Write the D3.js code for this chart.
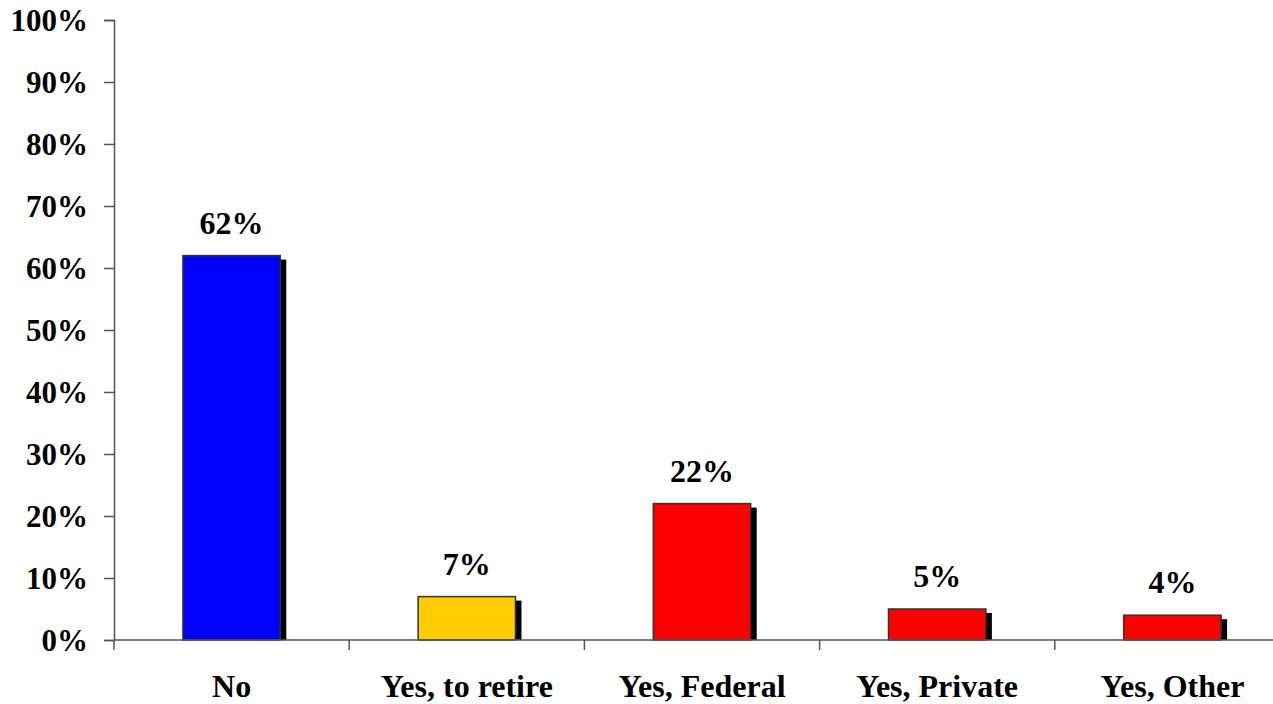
<!DOCTYPE html>
<html>
<head>
<meta charset="utf-8">
<script src="https://cdn.jsdelivr.net/npm/d3@7"></script>
<style>
  html, body { margin: 0; padding: 0; background: #fff; }
  svg { display: block; }
  text { font-family: "Liberation Serif", "Times New Roman", serif; font-weight: bold; fill: #000; }
</style>
</head>
<body>
<svg id="chart" width="1273" height="704"></svg>
<script>
// Survey responses and their shares (percent)
const categories = ["No", "Yes, to retire", "Yes, Federal", "Yes, Private", "Yes, Other"];
const shares = [62, 7, 22, 5, 4];
const barColors = ["#0000FF", "#FFCC00", "#FF0000", "#FF0000", "#FF0000"];
const yTicks = [0, 10, 20, 30, 40, 50, 60, 70, 80, 90, 100];

(function draw() {
  const svg = d3.select("#chart");
  const plotLeft = 114, plotRight = 1290, plotTop = 20, plotBottom = 640;

  const x = d3.scaleBand().domain(categories).range([plotLeft, plotRight]).paddingInner(0.586).paddingOuter(0.293);
  const y = d3.scaleLinear().domain([0, 100]).range([plotBottom, plotTop]);

  const data = categories.map((c, i) => ({ cat: c, value: shares[i], color: barColors[i] }));

  // Drop shadows behind the bars
  svg.append("g").selectAll("rect").data(data).join("rect")
    .attr("x", d => x(d.cat) + 6)
    .attr("y", d => y(d.value) + 4)
    .attr("width", x.bandwidth())
    .attr("height", d => plotBottom - y(d.value) - 4)
    .attr("fill", "#000");

  // Bars
  svg.append("g").selectAll("rect").data(data).join("rect")
    .attr("x", d => x(d.cat))
    .attr("y", d => y(d.value))
    .attr("width", x.bandwidth())
    .attr("height", d => plotBottom - y(d.value))
    .attr("fill", d => d.color)
    .attr("stroke", "#333")
    .attr("stroke-width", 1.5);

  // Value labels
  svg.append("g").selectAll("text").data(data).join("text")
    .attr("x", d => x(d.cat) + x.bandwidth() / 2)
    .attr("y", d => y(d.value) - 22)
    .attr("text-anchor", "middle")
    .attr("font-size", 32)
    .text(d => d.value + "%");

  // Y axis
  const yAxis = svg.append("g").attr("transform", `translate(${plotLeft},0)`)
    .call(d3.axisLeft(y).tickValues(yTicks).tickFormat(d => d + "%").tickSize(10).tickPadding(16));
  yAxis.attr("font-family", null).attr("font-size", null);
  yAxis.select(".domain").attr("stroke", "#555").attr("stroke-width", 1.5);
  yAxis.selectAll(".tick line").attr("stroke", "#555").attr("stroke-width", 1.5);
  yAxis.selectAll(".tick text").attr("font-size", 31).attr("dy", "0.35em");

  // X axis baseline with category separators
  const xg = svg.append("g");
  xg.append("line").attr("x1", plotLeft).attr("x2", 1273).attr("y1", plotBottom).attr("y2", plotBottom)
    .attr("stroke", "#555").attr("stroke-width", 1.5);
  const step = x.step();
  const seps = d3.range(categories.length + 1).map(i => plotLeft + i * step).filter(v => v <= 1273);
  xg.selectAll("line.sep").data(seps).join("line").attr("class", "sep")
    .attr("x1", d => d).attr("x2", d => d).attr("y1", plotBottom).attr("y2", plotBottom + 10)
    .attr("stroke", "#555").attr("stroke-width", 1.5);

  // Category labels
  xg.selectAll("text").data(categories).join("text")
    .attr("x", d => x(d) + x.bandwidth() / 2)
    .attr("y", 697)
    .attr("text-anchor", "middle")
    .attr("font-size", 32)
    .text(d => d);
})();
</script>
</body>
</html>
